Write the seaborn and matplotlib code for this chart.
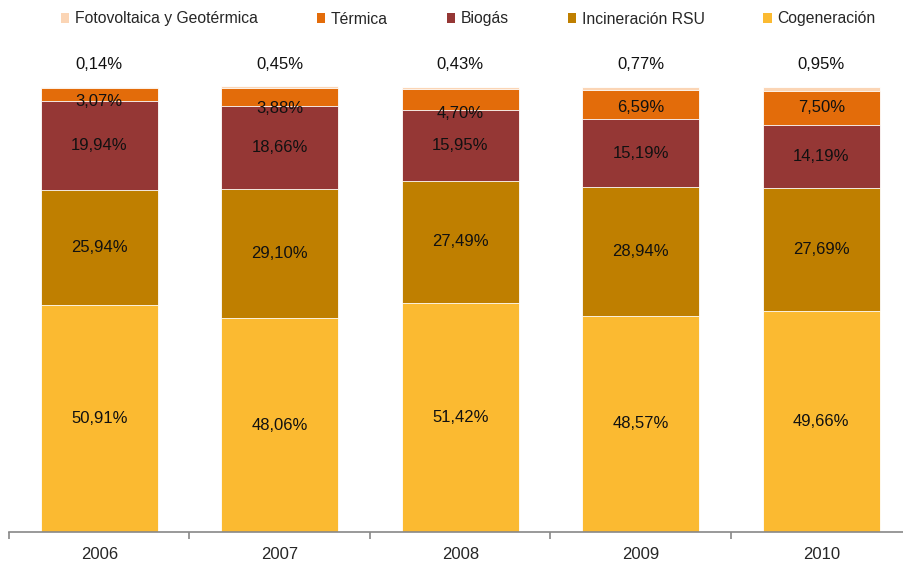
import numpy as np
import pandas as pd
import matplotlib
matplotlib.use("Agg")
import matplotlib.pyplot as plt
import seaborn as sns
from matplotlib.patches import Patch

sns.set_style("white")
plt.rcParams["font.family"] = ["Liberation Sans", "DejaVu Sans"]

years = ["2006", "2007", "2008", "2009", "2010"]
series = ["Cogeneración", "Incineración RSU", "Biogás", "Térmica", "Fotovoltaica y Geotérmica"]
cogeneracion = [50.91, 48.06, 51.42, 48.57, 49.66]
incineracion = [25.94, 29.10, 27.49, 28.94, 27.69]
biogas = [19.94, 18.66, 15.95, 15.19, 14.19]
termica = [3.07, 3.88, 4.70, 6.59, 7.50]
fotovoltaica = [0.14, 0.45, 0.43, 0.77, 0.95]
colors = ["#FBBA31", "#BF7F00", "#953735", "#E36C0A", "#FBD5B5"]

# small segments: labels nudged down so they stay readable
termica_label_shift = [-1.5, -2.6, -3.2, -0.7, 0.0]

values = [cogeneracion, incineracion, biogas, termica, fotovoltaica]
cum = np.cumsum(np.array(values), axis=0)

fig = plt.figure(figsize=(9.04, 5.64), dpi=100)
ax = fig.add_axes([9 / 904, 32 / 564, 902.5 / 904, 470 / 564])

# stacked bars: draw cumulative totals from the top layer down
for i in range(len(series) - 1, -1, -1):
    df = pd.DataFrame({"year": years, "value": cum[i]})
    sns.barplot(data=df, x="year", y="value", color=colors[i], width=0.65,
                edgecolor="white", linewidth=0.6, saturation=1, ax=ax)

def fmt(v):
    return f"{v:.2f}%".replace(".", ",")

for j in range(len(years)):
    for i in range(len(series) - 1):
        bottom = cum[i - 1][j] if i > 0 else 0
        y = bottom + values[i][j] / 2
        if series[i] == "Térmica":
            y += termica_label_shift[j]
        ax.text(j, y, fmt(values[i][j]),
                ha="center", va="center", fontsize=12, color="#111111")
    ax.text(j, 105, fmt(values[-1][j]), ha="center", va="center",
            fontsize=12, color="#111111")

ax.set_xlim(-0.5, 4.5)
ax.set_ylim(0, 105.6)
ax.set_xlabel("")
ax.set_ylabel("")
ax.set_yticks([])
for s in ["top", "right", "left"]:
    ax.spines[s].set_visible(False)
ax.spines["bottom"].set_color("#888888")
ax.spines["bottom"].set_linewidth(1.2)
ax.set_xticks(np.arange(-0.5, 5.0, 1.0), minor=False)
ax.set_xticklabels([])
ax.tick_params(axis="x", which="major", length=5, color="#888888", width=1.2,
               direction="out", bottom=True)
ax.set_xticks(np.arange(5), minor=True)
ax.set_xticklabels(years, minor=True, fontsize=12)
ax.tick_params(axis="x", which="minor", length=0, pad=11)

handles = [Patch(facecolor=colors[i], edgecolor="none") for i in range(len(series) - 1, -1, -1)]
labels = [series[i] for i in range(len(series) - 1, -1, -1)]
fig.legend(handles, labels, loc="center", bbox_to_anchor=(0.518, 1 - 19 / 564),
           ncol=5, frameon=False, fontsize=11.3, handlelength=0.55, handleheight=0.55,
           handletextpad=0.35, columnspacing=3.75)

fig.savefig("out.png", dpi=100)
